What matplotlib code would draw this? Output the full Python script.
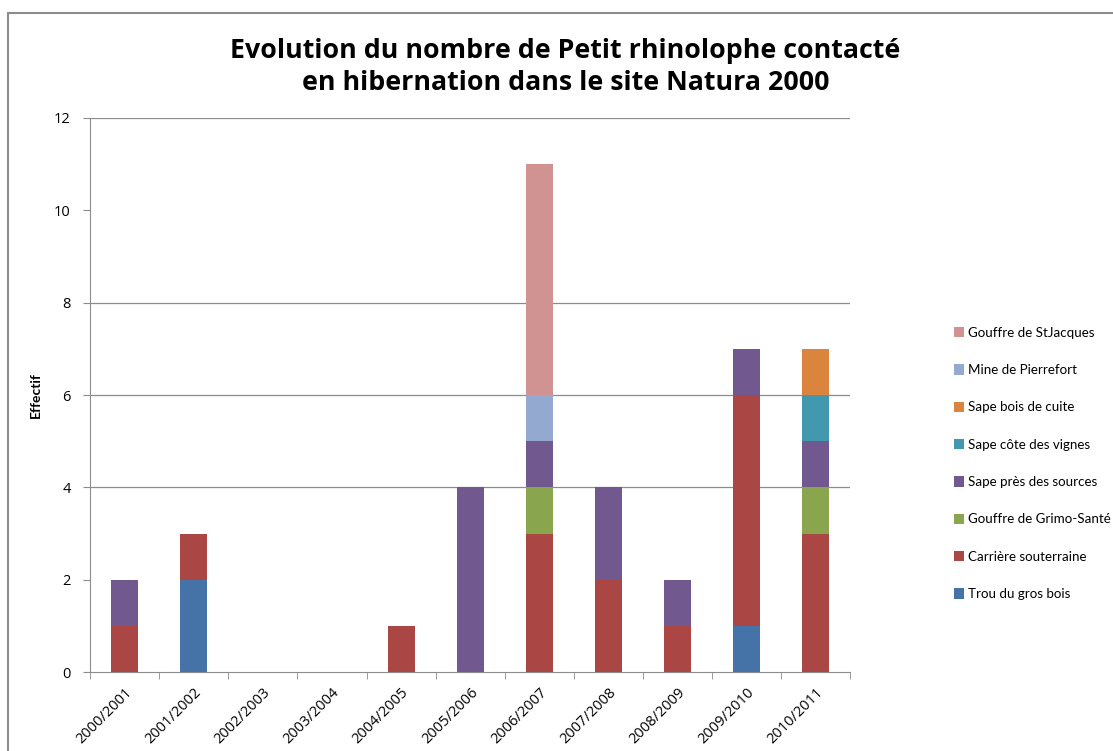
import numpy as np
import matplotlib.pyplot as plt
from matplotlib.patches import Rectangle

plt.rcParams['font.family'] = ['Open Sans', 'DejaVu Sans']

saisons = ['2000/2001', '2001/2002', '2002/2003', '2003/2004', '2004/2005',
           '2005/2006', '2006/2007', '2007/2008', '2008/2009', '2009/2010',
           '2010/2011']

# one list per site, bottom to top of the stack
trou_gros_bois = [0, 2, 0, 0, 0, 0, 0, 0, 0, 1, 0]
carriere = [1, 1, 0, 0, 1, 0, 3, 2, 1, 5, 3]
grimo_sante = [0, 0, 0, 0, 0, 0, 1, 0, 0, 0, 1]
sape_sources = [1, 0, 0, 0, 0, 4, 1, 2, 1, 1, 1]
sape_vignes = [0, 0, 0, 0, 0, 0, 0, 0, 0, 0, 1]
sape_bois_cuite = [0, 0, 0, 0, 0, 0, 0, 0, 0, 0, 1]
mine_pierrefort = [0, 0, 0, 0, 0, 0, 1, 0, 0, 0, 0]
gouffre_stjacques = [0, 0, 0, 0, 0, 0, 5, 0, 0, 0, 0]

series = [
    ('Trou du gros bois', trou_gros_bois, '#4572A7'),
    ('Carrière souterraine', carriere, '#AA4643'),
    ('Gouffre de Grimo-Santé', grimo_sante, '#89A54E'),
    ('Sape près des sources', sape_sources, '#71588F'),
    ('Sape côte des vignes', sape_vignes, '#4198AF'),
    ('Sape bois de cuite', sape_bois_cuite, '#DB843D'),
    ('Mine de Pierrefort', mine_pierrefort, '#93A9CF'),
    ('Gouffre de StJacques', gouffre_stjacques, '#D19392'),
]

fig = plt.figure(figsize=(11.13, 7.51), dpi=100)
ax = fig.add_axes([0.081, 0.105, 0.683, 0.738])

x = np.arange(len(saisons))
bottom = np.zeros(len(saisons))
for nom, vals, col in series:
    ax.bar(x, vals, 0.39, bottom=bottom, color=col, label=nom, zorder=3)
    bottom += np.array(vals)

ax.set_xlim(-0.5, len(saisons) - 0.5)
ax.set_ylim(0, 12)
ax.set_yticks(range(0, 13, 2))
for v in [4, 6, 8, 12]:
    ax.axhline(v, color='#8c8c8c', lw=0.9, zorder=1)

ax.set_xticks(x)
ax.set_xticklabels(saisons, rotation=45, ha='right', rotation_mode='anchor',
                   fontsize=10.5)
ax.set_xticks(np.arange(-0.5, len(saisons)), minor=True)
ax.tick_params(axis='x', which='major', length=0, pad=9)
ax.tick_params(axis='x', which='minor', length=5, color='#8c8c8c')
ax.tick_params(axis='y', length=5, color='#8c8c8c', labelsize=10.5, pad=9)

for s in ['top', 'right']:
    ax.spines[s].set_visible(False)
ax.spines['left'].set_color('#8c8c8c')
ax.spines['bottom'].set_color('#8c8c8c')

ax.set_ylabel('Effectif', fontsize=10, fontweight='bold', family='Lato')
ax.yaxis.set_label_coords(-0.063, 0.5)

fig.text(0.508, 0.911, 'Evolution du nombre de Petit rhinolophe contacté\n'
         'en hibernation dans le site Natura 2000',
         ha='center', va='center', fontsize=19.3, fontweight='bold',
         linespacing=1.3)

h, l = ax.get_legend_handles_labels()
fig.legend(h[::-1], l[::-1], loc='center left', bbox_to_anchor=(0.846, 0.383),
           frameon=False, handlelength=0.8, handleheight=0.8,
           handletextpad=0.25, labelspacing=1.9,
           prop={'family': ['Lato', 'Open Sans'], 'size': 9.6})

fig.patches.append(Rectangle((0.0072, -0.1), 1.1, 1.0827, transform=fig.transFigure,
                             fill=False, edgecolor='#8c8c8c', lw=1.5))

fig.savefig('out.png', dpi=100)
